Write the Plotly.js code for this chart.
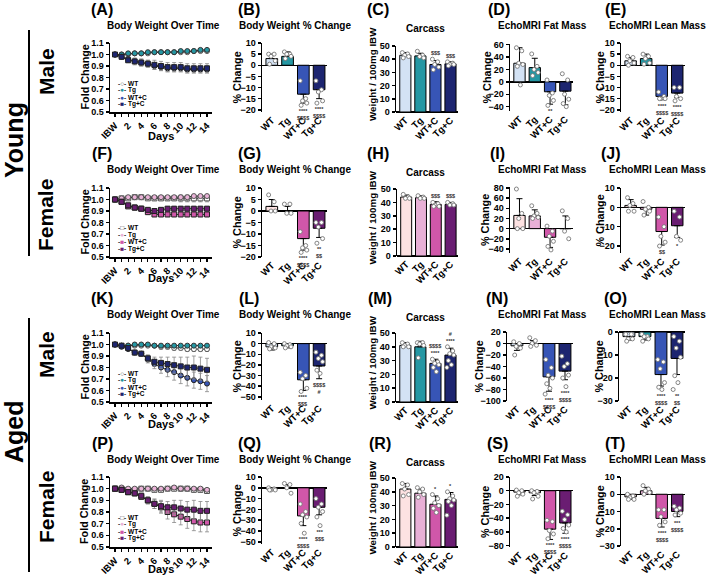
<!DOCTYPE html>
<html><head><meta charset="utf-8">
<script src="https://cdn.plot.ly/plotly-3.0.1.min.js"></script>
<style>html,body{margin:0;padding:0;background:#fff}</style>
</head><body><div id="chart" style="width:709px;height:576px"></div>
<script>
// ================= DATA =================
const groups = ['WT', 'Tg', 'WT+C', 'Tg+C'];
const days = [0,1,2,3,4,5,6,7,8,9,10,11,12,13,14];
const dayTickText = ['IBW','','2','','4','','6','','8','','10','','12','','14'];

// (A) Young male – body weight over time (fold change)
const ymWT   = [1.00,1.00,1.00,1.01,1.01,1.01,1.02,1.02,1.02,1.02,1.02,1.02,1.03,1.03,1.03];
const ymTg   = [1.00,1.00,1.01,1.01,1.01,1.02,1.02,1.02,1.02,1.02,1.03,1.03,1.03,1.04,1.04];
const ymWTC  = [1.00,0.98,0.96,0.94,0.93,0.92,0.90,0.89,0.88,0.88,0.88,0.87,0.87,0.87,0.87];
const ymTgC  = [1.00,0.98,0.95,0.94,0.93,0.92,0.91,0.90,0.89,0.89,0.89,0.88,0.88,0.88,0.88];
const ymErrWT  = [0,0.01,0.01,0.01,0.01,0.01,0.01,0.01,0.01,0.01,0.01,0.01,0.01,0.01,0.01];
const ymErrTg  = [0,0.01,0.01,0.01,0.01,0.01,0.01,0.01,0.01,0.01,0.01,0.01,0.01,0.01,0.01];
const ymErrWTC = [0,0.01,0.02,0.02,0.03,0.03,0.03,0.03,0.03,0.03,0.03,0.03,0.03,0.03,0.03];
const ymErrTgC = [0,0.01,0.02,0.03,0.03,0.03,0.04,0.04,0.04,0.04,0.04,0.04,0.04,0.04,0.04];

// (F) Young female
const yfWT   = [1.00,1.01,1.01,1.02,1.02,1.01,1.01,1.01,1.01,1.01,1.01,1.01,1.01,1.01,1.01];
const yfTg   = [1.00,1.01,1.02,1.02,1.02,1.02,1.02,1.02,1.02,1.02,1.02,1.02,1.03,1.03,1.03];
const yfWTC  = [1.00,0.98,0.94,0.93,0.92,0.89,0.87,0.87,0.87,0.87,0.87,0.87,0.87,0.87,0.87];
const yfTgC  = [1.00,0.98,0.95,0.93,0.92,0.91,0.90,0.91,0.92,0.92,0.92,0.92,0.92,0.92,0.92];
const yfErrWT  = [0,0.01,0.01,0.01,0.01,0.01,0.02,0.02,0.02,0.02,0.03,0.03,0.03,0.03,0.03];
const yfErrTg  = [0,0.01,0.01,0.01,0.01,0.01,0.01,0.01,0.01,0.01,0.01,0.01,0.01,0.01,0.01];
const yfErrWTC = [0,0.01,0.01,0.02,0.02,0.02,0.02,0.02,0.02,0.02,0.02,0.02,0.02,0.02,0.02];
const yfErrTgC = [0,0.01,0.01,0.01,0.02,0.02,0.02,0.02,0.02,0.02,0.02,0.02,0.02,0.02,0.02];

// (K) Aged male
const amWT   = [1.00,0.99,0.99,0.99,0.99,0.99,0.99,0.98,0.98,0.97,0.97,0.96,0.96,0.96,0.96];
const amTg   = [1.00,0.99,0.99,1.00,1.00,1.00,0.99,0.99,0.99,0.99,0.99,0.99,0.99,0.99,0.99];
const amWTC  = [1.00,0.98,0.96,0.93,0.92,0.87,0.83,0.80,0.78,0.76,0.73,0.71,0.69,0.68,0.66];
const amTgC  = [1.00,0.99,0.97,0.93,0.92,0.88,0.85,0.84,0.83,0.82,0.81,0.80,0.80,0.79,0.78];
const amErrWT  = [0,0.01,0.01,0.01,0.01,0.01,0.01,0.02,0.02,0.02,0.02,0.02,0.02,0.02,0.02];
const amErrTg  = [0,0.01,0.01,0.01,0.01,0.01,0.01,0.01,0.01,0.01,0.01,0.01,0.01,0.01,0.01];
const amErrWTC = [0,0.01,0.01,0.02,0.02,0.03,0.04,0.05,0.06,0.07,0.07,0.07,0.07,0.07,0.07];
const amErrTgC = [0,0.01,0.01,0.02,0.02,0.03,0.04,0.05,0.06,0.07,0.08,0.09,0.10,0.10,0.10];

// (P) Aged female
const afWT   = [1.00,1.00,0.99,0.99,1.00,1.00,0.99,0.99,1.00,1.00,1.00,1.00,0.99,0.99,0.98];
const afTg   = [1.00,1.01,1.00,1.00,1.00,1.00,1.00,1.00,1.00,1.01,1.00,1.00,1.00,1.00,0.99];
const afWTC  = [1.00,0.99,0.97,0.96,0.93,0.90,0.87,0.84,0.80,0.78,0.76,0.74,0.72,0.71,0.71];
const afTgC  = [1.00,0.99,0.97,0.96,0.94,0.90,0.87,0.85,0.84,0.84,0.83,0.82,0.82,0.81,0.81];
const afErrWT  = [0,0.01,0.01,0.01,0.01,0.01,0.01,0.01,0.01,0.02,0.02,0.02,0.02,0.02,0.02];
const afErrTg  = [0,0.01,0.01,0.01,0.01,0.01,0.01,0.01,0.01,0.01,0.01,0.01,0.01,0.01,0.01];
const afErrWTC = [0,0.01,0.01,0.02,0.02,0.03,0.04,0.05,0.06,0.07,0.07,0.08,0.08,0.08,0.08];
const afErrTgC = [0,0.01,0.01,0.02,0.02,0.03,0.04,0.05,0.05,0.06,0.07,0.07,0.08,0.08,0.08];

// Bar panels: means, SD, individual points, significance labels
// (B) young male BW % change
const ymBW = [3, 4, -13, -11];
const ymBWsd = [2, 2, 4, 4];
const ymBWpts = [[5,5,4,2,0.5],[6,5,5,4,3],[-7,-15,-16,-17,-18],[-7,-11,-12,-16,-17]];
const ymBWsig = ['', '', '****<br>$$$$', '****<br>$$$$'];
// (C) young male carcass
const ymCar = [43, 42.5, 36, 36.5];
const ymCarsd = [2, 2, 3, 1.5];
const ymCarpts = [[45,44,43,42,41],[46,43,42,41],[40,38,36,34,32],[38,37,36,36,35]];
const ymCarsig = ['', '', '$$$', '$$$'];
// (D) young male fat
const ymFat = [30, 23, -16, -15];
const ymFatsd = [25, 15, 20, 22];
const ymFatpts = [[55,50,30,28,25,-5],[45,25,20,15,10],[3,-18,-22,-30,-38],[13,3,-20,-28,-35,-40]];
const ymFatsig = ['', '', '**', ''];
// (E) young male lean
const ymLean = [2, 3, -14, -12.5];
const ymLeansd = [1.5, 2, 1.5, 2];
const ymLeanpts = [[4,3.5,2,1,0],[5,4,3,1,0.5],[-12,-14,-15,-15,-15],[-10,-10,-14,-15,-16]];
const ymLeansig = ['', '', '****<br>$$$$', '****<br>$$$$'];

// (G) young female BW % change
const yfBW = [2, 0, -12, -7.5];
const yfBWsd = [3, 2, 5, 4];
const yfBWpts = [[7,4,0,0],[3,3,-1,-1],[-9,-15,-16,-17,-18],[-5,-5,-7,-12,-14]];
const yfBWsig = ['', '', '****<br>$$$$', '**<br>$$'];
// (H) young female carcass
const yfCar = [44, 43.5, 38.5, 38.5];
const yfCarsd = [1.5, 1.5, 2, 1.5];
const yfCarpts = [[46,44,43,43],[45,44,43,43],[40,39,38,37,37],[40,39,38,38]];
const yfCarsig = ['', '', '$$$', '$$$'];
// (I) young female fat
const yfFat = [26, 25, -17, 0];
const yfFatsd = [33, 12, 20, 25];
const yfFatpts = [[78,30,20,0,0],[45,30,25,22,20],[5,-5,-15,-25,-35,-42],[35,20,-5,-20]];
const yfFatsig = ['', '', '', ''];
// (J) young female lean
const yfLean = [1, -1, -12.5, -9.5];
const yfLeansd = [3, 3, 7, 6];
const yfLeanpts = [[5,2,1,-2,-2],[3,0,-1,-2,-4],[-5,-10,-15,-18,-20],[-2,-5,-15,-17]];
const yfLeansig = ['', '', '$$', '*'];

// (L) aged male BW % change
const amBW = [-3, -2, -34, -21];
const amBWsd = [3, 2, 10, 12];
const amBWpts = [[1,0,-3,-4,-5],[0,-1,-2,-3,-4],[-27,-30,-33,-42,-45],[-8,-11,-14,-17,-25,-28]];
const amBWsig = ['', '', '****<br>$$$', '$$$$<br>#'];
// (M) aged male carcass
const amCar = [41, 40, 28, 34];
const amCarsd = [2, 4, 3, 5];
const amCarpts = [[43,42,41,40,40],[43,43,42,41,32],[31,29,28,27,25,22],[40,37,35,34,30,27,25]];
const amCarsig = ['', '', '$$$$<br>****', '#<br>****'];
// (N) aged male fat
const amFat = [-4, 0, -58, -48];
const amFatsd = [8, 5, 25, 15];
const amFatpts = [[3,0,-5,-8,-20],[10,5,0,-3,-5],[-28,-42,-55,-60,-70,-78,-88],[-22,-35,-40,-55,-60,-75]];
const amFatsig = ['', '', '****<br>$$$$', '****<br>$$$$'];
// (O) aged male lean
const amLean = [-2, -2, -18.5, -11.5];
const amLeansd = [1.5, 1.5, 5, 7];
const amLeanpts = [[-1,-1,-3,-3,-4],[-1,-2,-2,-3,-4],[-12,-13,-16,-22,-24,-25],[-2,-4,-7,-11,-19,-22,-25]];
const amLeansig = ['', '', '****<br>$$$$', '**<br>$$'];

// (Q) aged female BW % change
const afBW = [-1, 0, -26, -18];
const afBWsd = [1.5, 3, 9, 7];
const afBWpts = [[0,-1,-2,-2,-2],[4,3,0,-5],[-15,-22,-25,-27,-33,-42],[-10,-15,-18,-22,-27,-35]];
const afBWsig = ['', '', '****<br>$$$$', '***<br>$$$'];
// (R) aged female carcass
const afCar = [42, 39, 31, 34.5];
const afCarsd = [4, 3, 6, 5];
const afCarpts = [[46,45,42,38,37],[43,42,40,38,36],[38,35,32,30,28,25],[40,37,35,34,33,30,23]];
const afCarsig = ['', '', '*', '*'];
// (S) aged female fat
const afFat = [-2, -3, -56, -47];
const afFatsd = [4, 4, 15, 15];
const afFatpts = [[1,0,-3,-5,-8],[0,-1,-3,-8,-12],[-43,-45,-58,-63,-70],[-30,-35,-42,-50,-55,-60]];
const afFatsig = ['', '', '****<br>$$$$', '****<br>$$$$'];
// (T) aged female lean
const afLean = [-1.5, 2, -14, -10];
const afLeansd = [1.5, 2, 5, 3];
const afLeanpts = [[0,-1,-2,-3,-3],[5,3,2,1,0],[-9,-9,-13,-16,-18],[-7,-8,-9,-11,-12]];
const afLeansig = ['', '', '****<br>$$$$', '***<br>$$$$'];

// ================= STYLE / LAYOUT =================
const FONT = 'Liberation Sans, Arial, Helvetica, sans-serif';
const W = 709, H = 576;
const px = v => v / W;
const py = v => 1 - v / H;
const jitter = [-0.2, 0.15, -0.05, 0.22, -0.14, 0.06, -0.24, 0.18];

const barColors = {
  m: ['#d3e2f4', '#2597a3', '#3755b6', '#1d2570'],
  f: ['#fde2e2', '#e8b0d6', '#d057a9', '#6a1d72']
};
const lineMarkers = {
  m: [{symbol:'circle', color:'#ffffff', line:'#555'}, {symbol:'circle', color:'#2597a3', line:'#333'},
      {symbol:'circle', color:'#3755b6', line:'#222'}, {symbol:'square', color:'#1d2570', line:'#222'}],
  f: [{symbol:'square', color:'#ffffff', line:'#555'}, {symbol:'circle', color:'#eab3d8', line:'#555'},
      {symbol:'square', color:'#d057a9', line:'#222'}, {symbol:'square', color:'#6a1d72', line:'#222'}]
};
const legendGlyph = {
  m: ['○', '●', '●', '■'],
  f: ['□', '●', '■', '■']
};
const legendGlyphColor = {
  m: ['#555', '#2597a3', '#3755b6', '#1d2570'],
  f: ['#555', '#eab3d8', '#d057a9', '#6a1d72']
};

// yt = x pixel of the rotated y-axis title; dY = y pixel of "Days"
const panels = [
  // row 1
  {lab:'(A)', title:'Body Weight Over Time', kind:'time', sex:'m', x:[110,212], y:[43,112], yr:[0.5,1.1], dt:0.1, labX:102, labY:9, tX:163, tY:26, yt:84, dY:136,
   series:[ymWT,ymTg,ymWTC,ymTgC], errs:[ymErrWT,ymErrTg,ymErrWTC,ymErrTgC]},
  {lab:'(B)', title:'Body Weight % Change', kind:'bar', sex:'m', x:[262,327], y:[43,112], yr:[-21,10], dt:5, labX:249, labY:9, tX:295, tY:26, yt:236,
   mean:ymBW, sd:ymBWsd, pts:ymBWpts, sig:ymBWsig, ytitle:'% Change'},
  {lab:'(C)', title:'Carcass', kind:'bar', sex:'m', x:[396,458], y:[46,112], yr:[0,50], dt:10, labX:378, labY:9, tX:426, tY:28, yt:372,
   mean:ymCar, sd:ymCarsd, pts:ymCarpts, sig:ymCarsig, ytitle:'Weight / 100mg IBW'},
  {lab:'(D)', title:'EchoMRI Fat Mass', kind:'bar', sex:'m', x:[510,573], y:[44,111], yr:[-47,61], dt:20, labX:499, labY:9, tX:542, tY:26, yt:486,
   mean:ymFat, sd:ymFatsd, pts:ymFatpts, sig:ymFatsig, ytitle:'% Change'},
  {lab:'(E)', title:'EchoMRI Lean Mass', kind:'bar', sex:'m', x:[621,685], y:[43,112], yr:[-21,10], dt:5, labX:615, labY:9, tX:657, tY:26, yt:599,
   mean:ymLean, sd:ymLeansd, pts:ymLeanpts, sig:ymLeansig, ytitle:'% Change'},
  // row 2
  {lab:'(F)', title:'Body Weight Over Time', kind:'time', sex:'f', x:[110,212], y:[188,257], yr:[0.5,1.1], dt:0.1, labX:102, labY:153, tX:163, tY:170, yt:84, dY:278,
   series:[yfWT,yfTg,yfWTC,yfTgC], errs:[yfErrWT,yfErrTg,yfErrWTC,yfErrTgC]},
  {lab:'(G)', title:'Body Weight % Change', kind:'bar', sex:'f', x:[262,327], y:[188,257], yr:[-20,10], dt:5, labX:249, labY:153, tX:295, tY:170, yt:236,
   mean:yfBW, sd:yfBWsd, pts:yfBWpts, sig:yfBWsig, ytitle:'% Change'},
  {lab:'(H)', title:'Carcass', kind:'bar', sex:'f', x:[397,458], y:[189,256], yr:[0,50], dt:10, labX:378, labY:153, tX:426, tY:172, yt:372,
   mean:yfCar, sd:yfCarsd, pts:yfCarpts, sig:yfCarsig, ytitle:'Weight / 100mg IBW'},
  {lab:'(I)', title:'EchoMRI Fat Mass', kind:'bar', sex:'f', x:[510,573], y:[187,253], yr:[-48,82], dt:20, labX:497, labY:153, tX:542, tY:169, yt:485,
   mean:yfFat, sd:yfFatsd, pts:yfFatpts, sig:yfFatsig, ytitle:'% Change'},
  {lab:'(J)', title:'EchoMRI Lean Mass', kind:'bar', sex:'f', x:[621,685], y:[188,253], yr:[-23.6,10], dt:10, labX:611, labY:153, tX:657, tY:169, yt:599,
   mean:yfLean, sd:yfLeansd, pts:yfLeanpts, sig:yfLeansig, ytitle:'% Change'},
  // row 3
  {lab:'(K)', title:'Body Weight Over Time', kind:'time', sex:'m', x:[110,212], y:[333,402], yr:[0.5,1.1], dt:0.1, labX:102, labY:298, tX:163, tY:314, yt:84, dY:424,
   series:[amWT,amTg,amWTC,amTgC], errs:[amErrWT,amErrTg,amErrWTC,amErrTgC]},
  {lab:'(L)', title:'Body Weight % Change', kind:'bar', sex:'m', x:[262,327], y:[333,400], yr:[-53,10], dt:10, labX:249, labY:298, tX:295, tY:314, yt:236,
   mean:amBW, sd:amBWsd, pts:amBWpts, sig:amBWsig, ytitle:'% Change'},
  {lab:'(M)', title:'Carcass', kind:'bar', sex:'m', x:[396,458], y:[333,402], yr:[0,50], dt:10, labX:380, labY:298, tX:426, tY:317, yt:372,
   mean:amCar, sd:amCarsd, pts:amCarpts, sig:amCarsig, ytitle:'Weight / 100mg IBW'},
  {lab:'(N)', title:'EchoMRI Fat Mass', kind:'bar', sex:'m', x:[507,573], y:[332,401], yr:[-100,20], dt:20, labX:497, labY:298, tX:542, tY:314, yt:478,
   mean:amFat, sd:amFatsd, pts:amFatpts, sig:amFatsig, ytitle:'% Change'},
  {lab:'(O)', title:'EchoMRI Lean Mass', kind:'bar', sex:'m', x:[619,685], y:[332,401], yr:[-30,0], dt:10, labX:615, labY:298, tX:657, tY:314, yt:598,
   mean:amLean, sd:amLeansd, pts:amLeanpts, sig:amLeansig, ytitle:'% Change'},
  // row 4
  {lab:'(P)', title:'Body Weight Over Time', kind:'time', sex:'f', x:[110,212], y:[477,547], yr:[0.5,1.1], dt:0.1, labX:102, labY:443, tX:163, tY:459, yt:84, dY:569,
   series:[afWT,afTg,afWTC,afTgC], errs:[afErrWT,afErrTg,afErrWTC,afErrTgC]},
  {lab:'(Q)', title:'Body Weight % Change', kind:'bar', sex:'f', x:[262,327], y:[477,544], yr:[-52,10], dt:10, labX:249, labY:443, tX:295, tY:459, yt:236,
   mean:afBW, sd:afBWsd, pts:afBWpts, sig:afBWsig, ytitle:'% Change'},
  {lab:'(R)', title:'Carcass', kind:'bar', sex:'f', x:[396,458], y:[478,547], yr:[0,50], dt:10, labX:380, labY:443, tX:426, tY:462, yt:372,
   mean:afCar, sd:afCarsd, pts:afCarpts, sig:afCarsig, ytitle:'Weight / 100mg IBW'},
  {lab:'(S)', title:'EchoMRI Fat Mass', kind:'bar', sex:'f', x:[510,573], y:[477,547], yr:[-82,20], dt:20, labX:497, labY:443, tX:542, tY:459, yt:485,
   mean:afFat, sd:afFatsd, pts:afFatpts, sig:afFatsig, ytitle:'% Change'},
  {lab:'(T)', title:'EchoMRI Lean Mass', kind:'bar', sex:'f', x:[621,685], y:[477,546], yr:[-30,10], dt:10, labX:615, labY:443, tX:657, tY:459, yt:599,
   mean:afLean, sd:afLeansd, pts:afLeanpts, sig:afLeansig, ytitle:'% Change'}
];

const traces = [];
const layout = {
  width: W, height: H, margin: {l:0, r:0, t:0, b:0},
  paper_bgcolor: '#fff', plot_bgcolor: 'rgba(0,0,0,0)',
  showlegend: false, font: {family: FONT, color: '#000'},
  annotations: [], shapes: []
};
const tickFont = {family: FONT, size: 9, weight: 700, color: '#000'};
const xTickFont = {family: FONT, size: 9.5, weight: 700, color: '#000'};
const ann = a => layout.annotations.push(Object.assign({xref: 'paper', yref: 'paper', showarrow: false, xanchor: 'center', yanchor: 'middle'}, a));

panels.forEach((p, i) => {
  const n = i + 1;
  const xa = n === 1 ? 'xaxis' : 'xaxis' + n;
  const ya = n === 1 ? 'yaxis' : 'yaxis' + n;
  const xr = n === 1 ? 'x' : 'x' + n;
  const yr = n === 1 ? 'y' : 'y' + n;
  const xdom = [px(p.x[0]), px(p.x[1])];
  const ydom = [py(p.y[1]), py(p.y[0])];

  layout[ya] = {
    domain: ydom, anchor: xr, range: p.yr, dtick: p.dt, tick0: 0,
    showline: true, linecolor: '#000', linewidth: 1.5, ticks: 'outside', ticklen: 3, tickwidth: 1.5, tickcolor: '#000',
    showgrid: false, zeroline: p.kind === 'bar', zerolinecolor: '#000', zerolinewidth: 1.5,
    tickfont: tickFont, tickformat: p.kind === 'time' ? '.1f' : ''
  };

  const ytitle = p.kind === 'time' ? 'Fold Change' : p.ytitle;
  const long = ytitle.length > 12;
  const midY = (p.y[0] + p.y[1]) / 2 - (long ? 5 : 0);
  ann({x: px(p.yt), y: py(midY), textangle: -90, text: ytitle,
       font: {family: FONT, size: long ? 9.8 : 10.8, weight: 700, color: '#000'}});

  if (p.kind === 'time') {
    layout[xa] = {
      domain: xdom, anchor: yr, range: [-0.76, 14.76], tickmode: 'array', tickvals: days, ticktext: dayTickText,
      tickangle: -45, showline: true, linecolor: '#000', linewidth: 1.5, ticks: 'outside', ticklen: 3, tickwidth: 1.2,
      tickcolor: '#000', showgrid: false, zeroline: false, tickfont: xTickFont
    };
    ann({x: px((p.x[0] + p.x[1]) / 2), y: py(p.dY), text: 'Days', font: {family: FONT, size: 11, weight: 700, color: '#000'}});

    const mk = lineMarkers[p.sex];
    p.series.forEach((s, k) => {
      traces.push({
        type: 'scatter', mode: 'lines+markers', x: days, y: s, xaxis: xr, yaxis: yr, name: groups[k],
        line: {color: '#222', width: 1},
        marker: {symbol: mk[k].symbol, size: 5, color: mk[k].color, line: {color: mk[k].line, width: 1}},
        error_y: {type: 'data', array: p.errs[k], color: '#888', thickness: 0.8, width: 2},
        cliponaxis: false
      });
    });
    const offs = [40, 47, 54, 61];
    groups.forEach((g, k) => {
      ann({x: px(p.x[0] + 6), y: py(p.y[0] + offs[k]), xanchor: 'left',
        text: '<span style="color:#333">-</span><span style="color:' + legendGlyphColor[p.sex][k] + '">' + legendGlyph[p.sex][k] +
              '</span><span style="color:#333">-</span> ' + g,
        font: {family: FONT, size: 6.5, weight: 700, color: '#000'}});
    });
  } else {
    layout[xa] = {
      domain: xdom, anchor: yr, range: [-0.62, 3.5], tickmode: 'array', tickvals: [0,1,2,3], ticktext: groups,
      tickangle: -45, showline: false, ticks: '', showgrid: false, zeroline: false, tickfont: xTickFont
    };
    const plus = p.mean.map((m, k) => m >= 0 ? p.sd[k] : 0);
    const minus = p.mean.map((m, k) => m < 0 ? p.sd[k] : 0);
    traces.push({
      type: 'bar', x: [0,1,2,3], y: p.mean, xaxis: xr, yaxis: yr, width: 0.74,
      marker: {color: barColors[p.sex], line: {color: '#000', width: 1}},
      error_y: {type: 'data', symmetric: false, array: plus, arrayminus: minus, color: '#000', thickness: 1, width: 3}
    });
    const ptx = [], pty = [];
    p.pts.forEach((arr, k) => arr.forEach((v, j) => { ptx.push(k + jitter[j % jitter.length]); pty.push(v); }));
    traces.push({
      type: 'scatter', mode: 'markers', x: ptx, y: pty, xaxis: xr, yaxis: yr,
      marker: {symbol: 'circle', size: 4, color: '#fff', line: {color: '#777', width: 0.9}}, cliponaxis: false
    });
    p.sig.forEach((s, k) => {
      if (!s) return;
      const vals = p.pts[k].concat([p.mean[k] + (p.mean[k] >= 0 ? p.sd[k] : -p.sd[k])]);
      const up = p.yr[0] >= 0;
      layout.annotations.push({
        xref: xr, yref: yr, x: k, y: up ? Math.max(...vals) : Math.min(...vals),
        xanchor: 'center', yanchor: up ? 'bottom' : 'top', yshift: up ? 1 : -1, showarrow: false,
        text: s, font: {family: FONT, size: 5.5, weight: 700, color: '#333'}
      });
    });
  }

  ann({x: px(p.labX), y: py(p.labY), text: p.lab, font: {family: FONT, size: 16, weight: 700, color: '#000'}});
  ann({x: px(p.tX), y: py(p.tY), text: p.title, font: {family: FONT, size: 10, weight: 700, color: '#000'}});
});

// Row group labels
const sideLabels = [
  {t: 'Young', x: 14, y: 140, s: 25},
  {t: 'Male', x: 46, y: 72, s: 21},
  {t: 'Female', x: 46, y: 215, s: 21},
  {t: 'Aged', x: 14, y: 432, s: 25},
  {t: 'Male', x: 46, y: 355, s: 21},
  {t: 'Female', x: 46, y: 507, s: 21}
];
sideLabels.forEach(l => ann({x: px(l.x), y: py(l.y), textangle: -90, text: l.t,
  font: {family: FONT, size: l.s, weight: 700, color: '#000'}}));
layout.shapes.push(
  {type: 'line', xref: 'paper', yref: 'paper', x0: px(29), x1: px(29), y0: py(30), y1: py(256), line: {color: '#000', width: 2}},
  {type: 'line', xref: 'paper', yref: 'paper', x0: px(29), x1: px(29), y0: py(318), y1: py(572), line: {color: '#000', width: 2}}
);

Plotly.newPlot('chart', traces, layout, {staticPlot: true, displayModeBar: false});
</script>
</body></html>
